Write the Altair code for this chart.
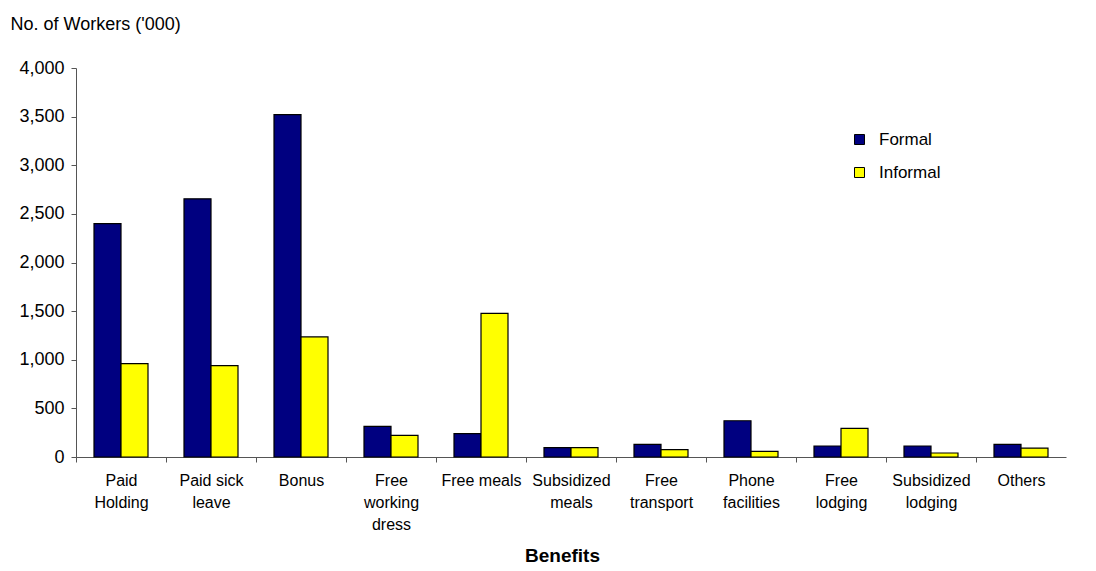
import altair as alt
import pandas as pd

categories = ["Paid|Holding", "Paid sick|leave", "Bonus", "Free|working|dress", "Free meals",
              "Subsidized|meals", "Free|transport", "Phone|facilities", "Free|lodging",
              "Subsidized|lodging", "Others"]
formal = [2400, 2655, 3520, 315, 240, 96, 130, 373, 113, 113, 130]
informal = [960, 940, 1235, 223, 1477, 96, 75, 58, 295, 41, 92]
series = ["Formal", "Informal"]
colors = ["#000080", "#FFFF00"]

rows = []
for c, f, i in zip(categories, formal, informal):
    rows.append({"Benefit": c, "Type": "Formal", "Workers": f})
    rows.append({"Benefit": c, "Type": "Informal", "Workers": i})
df = pd.DataFrame(rows)

FONT = "Liberation Sans"

chart = alt.Chart(df).mark_bar(stroke="black", strokeWidth=1.2).encode(
    x=alt.X("Benefit:N", sort=categories,
            scale=alt.Scale(paddingInner=0.4, paddingOuter=0.2),
            axis=alt.Axis(title="Benefits", labelAngle=0,
                          labelExpr="split(datum.label, '|')",
                          labelFont=FONT, labelFontSize=16, labelColor="black",
                          labelLineHeight=22, labelPadding=10,
                          bandPosition=0, tickOffset=-18, labelOffset=18,
                          tickSize=5, tickColor="#555", domainColor="#555",
                          titleFont=FONT, titleFontSize=19, titleFontWeight="bold",
                          titleColor="black", titleX=486, titleY=104,
                          titleAlign="center", titleBaseline="alphabetic")),
    xOffset=alt.XOffset("Type:N", sort=series,
                        scale=alt.Scale(paddingInner=0, paddingOuter=0)),
    y=alt.Y("Workers:Q", scale=alt.Scale(domain=[0, 4000], nice=False),
            axis=alt.Axis(title="No. of Workers ('000)", values=list(range(0, 4001, 500)),
                          format=",.0f", grid=False,
                          labelFont=FONT, labelFontSize=18, labelColor="black",
                          labelPadding=7, tickSize=5, tickColor="#555", domainColor="#555",
                          titleFont=FONT, titleFontSize=18, titleFontWeight="normal",
                          titleColor="black", titleAngle=0, titleAlign="left",
                          titleBaseline="alphabetic", titleX=-66, titleY=-39)),
    color=alt.Color("Type:N", sort=series,
                    scale=alt.Scale(domain=series, range=colors),
                    legend=alt.Legend(title=None, orient="none", legendX=775, legendY=63,
                                      symbolType="square", symbolSize=100,
                                      symbolStrokeColor="black", symbolStrokeWidth=1,
                                      labelFont=FONT, labelFontSize=17, labelColor="black",
                                      labelOffset=11, rowPadding=15, padding=0)),
).properties(
    width=990, height=389,
    autosize=alt.AutoSizeParams(type="none"),
    padding={"left": 68, "top": 60, "right": 20, "bottom": 109},
).configure_view(stroke=None).configure_axis(grid=False)

chart.save("out.html", embed_options={"renderer": "svg", "actions": False})
